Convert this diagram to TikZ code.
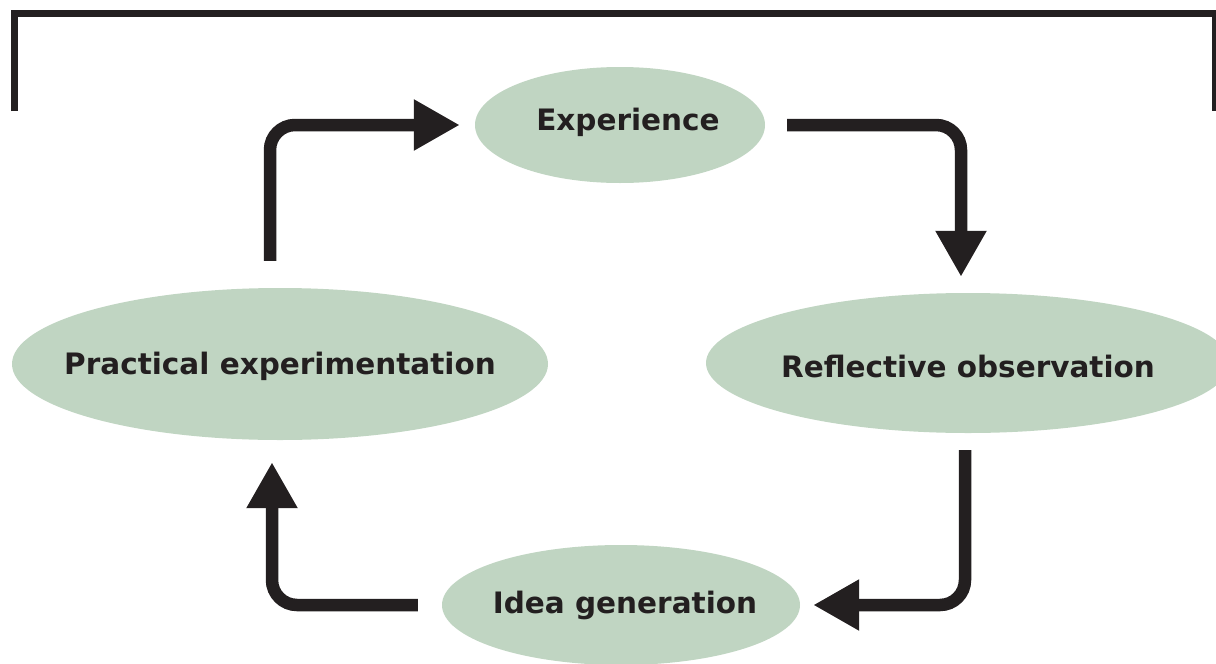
\documentclass[tikz,border=0pt]{standalone}
\usepackage{fontspec}
\setmainfont{DejaVu Sans}
\usetikzlibrary{shapes.geometric,arrows.meta}
\definecolor{ink}{HTML}{231F20}
\definecolor{sage}{HTML}{C0D5C2}
\tikzset{
  stage/.style={ellipse, fill=sage, inner sep=0pt},
  caption/.style={text=ink, inner sep=0pt,
    font=\fontsize{29.5}{34}\selectfont\bfseries},
  flow/.style={draw=ink, line width=12.5pt, rounded corners=25pt,
    -{Triangle[length=46pt,width=48pt]}},
  frame/.style={draw=ink, line width=7pt, line join=miter}
}
\begin{document}
\begin{tikzpicture}[x=1pt,y=-1pt]
  \useasboundingbox (0,0) rectangle (1216,664);

  % open frame along the top
  \draw[frame] (14.5,111) -- (14.5,13.5) -- (1215,13.5) -- (1215,111);

  % the four stages of the cycle (the shape size is fixed, text sits on top)
  \node[stage, minimum width=290pt, minimum height=116pt] (exp)  at (620,125) {};
  \node[stage, minimum width=536pt, minimum height=152pt] (prac) at (280,364) {};
  \node[stage, minimum width=524pt, minimum height=140pt] (refl) at (968,363) {};
  \node[stage, minimum width=358pt, minimum height=120pt] (idea) at (621,605) {};

  \node[caption] (expT)  at ([xshift=8pt,yshift=3pt]exp.center)  {Experience};
  \node[caption] (pracT) at ([yshift=-2pt]prac.center) {Practical experimentation};
  \node[caption] (reflT) at ([yshift=-3pt]refl.center) {Reflective observation};
  \node[caption] (ideaT) at ([xshift=4pt,yshift=0pt]idea.center) {Idea generation};

  % connectors running clockwise
  \draw[flow] ([xshift=-10pt,yshift=27pt]prac.north) |- ([xshift=-15pt]exp.west);
  \draw[flow] ([xshift=22pt]exp.east) -| ([xshift=-7pt,yshift=16pt]refl.north);
  \draw[flow] ([xshift=-3pt,yshift=-17pt]refl.south) |- ([xshift=13pt]idea.east);
  \draw[flow] ([xshift=-24pt]idea.west) -| ([xshift=-8pt,yshift=-22pt]prac.south);
\end{tikzpicture}
\end{document}
